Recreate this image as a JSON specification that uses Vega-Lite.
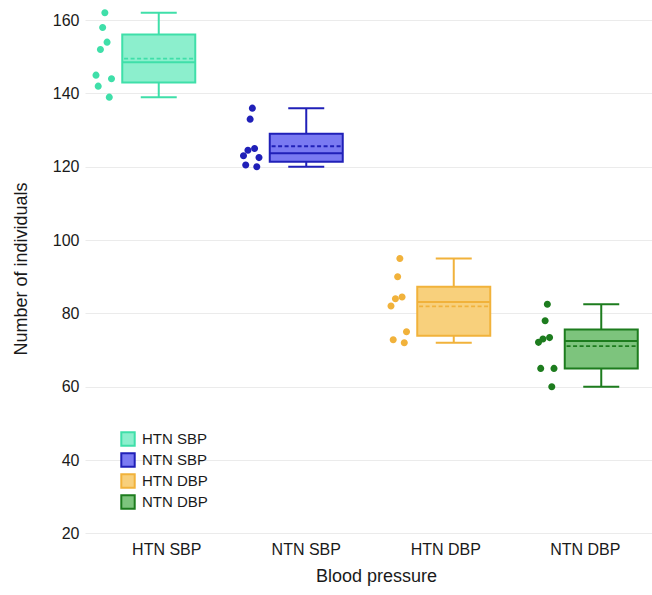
{
  "$schema": "https://vega.github.io/schema/vega-lite/v6.json",
  "width": 567,
  "height": 537,
  "autosize": "none",
  "padding": {"left": 83, "top": 0, "right": 2, "bottom": 58},
  "background": "white",
  "datasets": {
    "points": [
      {"group": "HTN SBP", "value": 162}, {"group": "HTN SBP", "value": 158}, {"group": "HTN SBP", "value": 154}, {"group": "HTN SBP", "value": 152},
      {"group": "HTN SBP", "value": 145}, {"group": "HTN SBP", "value": 144}, {"group": "HTN SBP", "value": 142}, {"group": "HTN SBP", "value": 139},
      {"group": "NTN SBP", "value": 136}, {"group": "NTN SBP", "value": 133}, {"group": "NTN SBP", "value": 125}, {"group": "NTN SBP", "value": 124.5},
      {"group": "NTN SBP", "value": 123}, {"group": "NTN SBP", "value": 122.5}, {"group": "NTN SBP", "value": 120.5}, {"group": "NTN SBP", "value": 120},
      {"group": "HTN DBP", "value": 95}, {"group": "HTN DBP", "value": 90}, {"group": "HTN DBP", "value": 84.5}, {"group": "HTN DBP", "value": 84},
      {"group": "HTN DBP", "value": 82}, {"group": "HTN DBP", "value": 75}, {"group": "HTN DBP", "value": 72.8}, {"group": "HTN DBP", "value": 72},
      {"group": "NTN DBP", "value": 82.5}, {"group": "NTN DBP", "value": 78}, {"group": "NTN DBP", "value": 73.4}, {"group": "NTN DBP", "value": 73},
      {"group": "NTN DBP", "value": 72.1}, {"group": "NTN DBP", "value": 65}, {"group": "NTN DBP", "value": 65}, {"group": "NTN DBP", "value": 60}
    ],
    "boxes": [
      {"group": "HTN SBP", "min": 139, "q1": 143, "median": 148.5, "q3": 156.1, "max": 162, "mean": 149.5},
      {"group": "NTN SBP", "min": 120, "q1": 121.4, "median": 123.7, "q3": 129, "max": 136, "mean": 125.6},
      {"group": "HTN DBP", "min": 72, "q1": 73.9, "median": 83.1, "q3": 87.3, "max": 95, "mean": 81.9},
      {"group": "NTN DBP", "min": 60, "q1": 65, "median": 72.5, "q3": 75.6, "max": 82.5, "mean": 71.1}
    ]
  },
  "layer": [
    {
      "data": {"name": "boxes"},
      "encoding": {
        "x": {
          "field": "group", "type": "nominal",
          "scale": {"domain": ["HTN SBP", "NTN SBP", "HTN DBP", "NTN DBP"], "range": [2, 592], "paddingInner": 0, "paddingOuter": 0},
          "axis": null
        }
      },
      "layer": [
        {
          "mark": {"type": "rule", "strokeWidth": 2},
          "encoding": {
            "y": {"field": "min", "type": "quantitative", "title": "Number of individuals",
                  "scale": {"domain": [19, 165.5], "nice": false, "zero": false},
                  "axis": {"values": [20, 40, 60, 80, 100, 120, 140, 160]}},
            "y2": {"field": "max"},
            "stroke": {"field": "group", "type": "nominal",
                       "scale": {"domain": ["HTN SBP", "NTN SBP", "HTN DBP", "NTN DBP"], "range": ["#3fdfa9", "#2020b8", "#f1b23b", "#1d7c1e"]}}
          }
        },
        {
          "mark": {"type": "rule", "strokeWidth": 2},
          "encoding": {
            "x": {"field": "group", "type": "nominal", "bandPosition": 0.378},
            "x2": {"field": "group", "bandPosition": 0.622},
            "y": {"field": "min", "type": "quantitative", "title": "Number of individuals"},
            "stroke": {"field": "group", "type": "nominal"}
          }
        },
        {
          "mark": {"type": "rule", "strokeWidth": 2},
          "encoding": {
            "x": {"field": "group", "type": "nominal", "bandPosition": 0.378},
            "x2": {"field": "group", "bandPosition": 0.622},
            "y": {"field": "max", "type": "quantitative", "title": "Number of individuals"},
            "stroke": {"field": "group", "type": "nominal"}
          }
        },
        {
          "mark": {"type": "bar", "width": 73, "strokeWidth": 2},
          "encoding": {
            "y": {"field": "q1", "type": "quantitative", "title": "Number of individuals"},
            "y2": {"field": "q3"},
            "fill": {"field": "group", "type": "nominal",
                     "scale": {"domain": ["HTN SBP", "NTN SBP", "HTN DBP", "NTN DBP"], "range": ["#8cefcd", "#7a7af2", "#f8d07c", "#7dc47d"]},
                     "legend": {"title": null, "orient": "none", "legendX": 37, "legendY": 431,
                                "symbolType": "square", "symbolSize": 180, "symbolStrokeWidth": 2,
                                "labelFontSize": 15, "labelFont": "Liberation Sans", "labelColor": "#1a1a1a",
                                "labelOffset": 6, "rowPadding": -1, "padding": 0}},
            "stroke": {"field": "group", "type": "nominal"}
          }
        },
        {
          "mark": {"type": "rule", "strokeWidth": 2},
          "encoding": {
            "x": {"field": "group", "type": "nominal", "bandPosition": 0.2525},
            "x2": {"field": "group", "bandPosition": 0.7475},
            "y": {"field": "median", "type": "quantitative", "title": "Number of individuals"},
            "stroke": {"field": "group", "type": "nominal"}
          }
        },
        {
          "mark": {"type": "rule", "strokeWidth": 1.8, "strokeDash": [4, 2.5]},
          "encoding": {
            "x": {"field": "group", "type": "nominal", "bandPosition": 0.265},
            "x2": {"field": "group", "bandPosition": 0.735},
            "y": {"field": "mean", "type": "quantitative", "title": "Number of individuals"},
            "stroke": {"field": "group", "type": "nominal"}
          }
        }
      ]
    },
    {
      "data": {"name": "points"},
      "transform": [
        {"window": [{"op": "row_number", "as": "rank"}], "groupby": ["group"], "sort": [{"field": "value", "order": "descending"}]}
      ],
      "mark": {"type": "point", "filled": false, "opacity": 1, "size": 12, "strokeWidth": 3.6},
      "encoding": {
        "x": {
          "field": "group", "type": "nominal",
          "scale": {"domain": ["HTN SBP", "NTN SBP", "HTN DBP", "NTN DBP"], "range": [2, 592], "paddingInner": 0, "paddingOuter": 0},
          "axis": null
        },
        "y": {"field": "value", "type": "quantitative", "title": "Number of individuals"},
        "xOffset": {"field": "rank", "type": "ordinal",
                    "scale": {"type": "point", "domain": [5, 7, 4, 2, 1, 3, 8, 6], "range": [11, 26.5], "padding": 0}},
        "stroke": {"field": "group", "type": "nominal"}
      }
    },
    {
      "data": {"name": "boxes"},
      "mark": {"type": "tick", "opacity": 0},
      "encoding": {
        "x": {
          "field": "group", "type": "nominal",
          "scale": {"domain": ["HTN SBP", "NTN SBP", "HTN DBP", "NTN DBP"], "range": [14, 572], "paddingInner": 0, "paddingOuter": 0},
          "axis": {"title": "Blood pressure", "labelAngle": 0, "labelFontSize": 16, "labelPadding": 4, "titleFontSize": 18, "titlePadding": 10, "grid": false}
        },
        "y": {"field": "median", "type": "quantitative", "title": "Number of individuals"}
      }
    }
  ],
  "resolve": {"scale": {"x": "independent"}, "axis": {"x": "independent"}},
  "config": {
    "view": {"stroke": null},
    "axis": {
      "labelFont": "Liberation Sans", "titleFont": "Liberation Sans",
      "labelColor": "#1a1a1a", "titleColor": "#1a1a1a", "titleFontWeight": "normal",
      "ticks": false, "domain": false
    },
    "axisY": {
      "grid": true, "gridColor": "#ebebeb", "gridWidth": 1,
      "labelFontSize": 16, "labelPadding": 4, "titleFontSize": 18, "titlePadding": 22
    }
  }
}
